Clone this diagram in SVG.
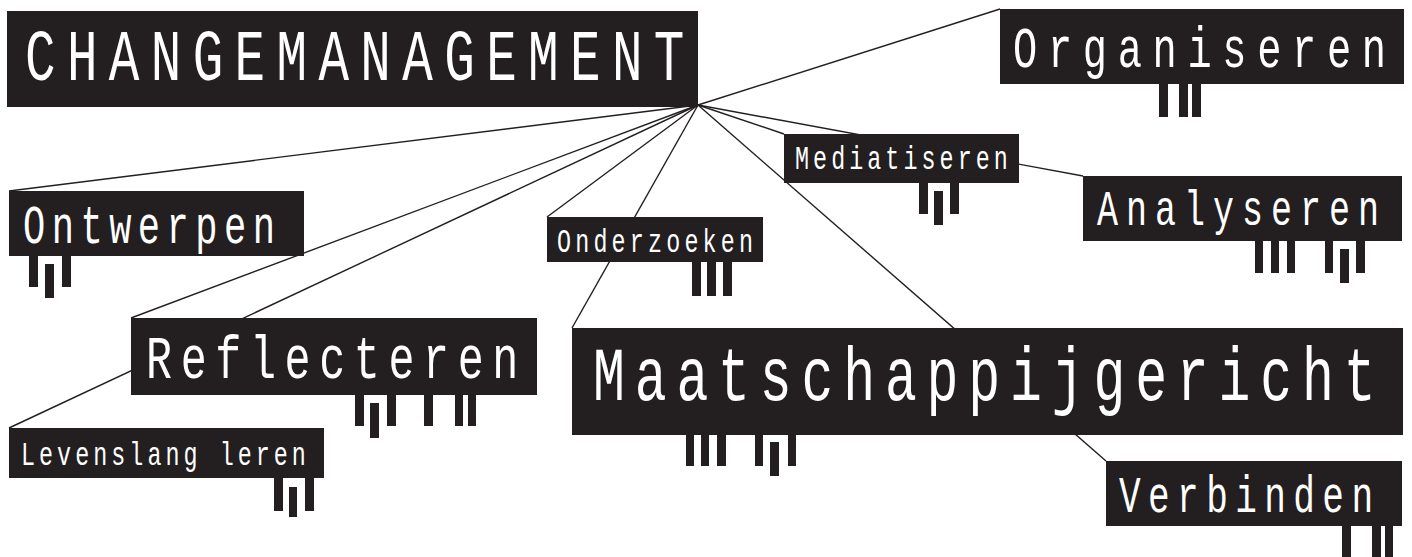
<svg xmlns="http://www.w3.org/2000/svg" width="1412" height="557" viewBox="0 0 1412 557">
<style>
.bg{fill:#ffffff}
.box{fill:#231f20}
.bar{fill:#231f20}
.lbl{fill:#ffffff;font-family:"Liberation Mono","DejaVu Sans Mono",monospace;font-weight:normal}
.con line{stroke:#231f20;stroke-width:1.4;fill:none}
</style>
<rect class="bg" x="0" y="0" width="1412" height="557"/>
<g id="connectors" class="con">
<line x1="698" y1="105" x2="1000" y2="9"/>
<line x1="698" y1="105" x2="784" y2="134"/>
<line x1="698" y1="105" x2="1083" y2="176"/>
<line x1="698" y1="105" x2="1106" y2="461"/>
<line x1="698" y1="105" x2="572" y2="328"/>
<line x1="698" y1="105" x2="547" y2="217"/>
<line x1="698" y1="105" x2="131" y2="318"/>
<line x1="698" y1="105" x2="9" y2="428"/>
<line x1="698" y1="105" x2="9" y2="191"/>
</g>
<g id="changemanagement">
<rect class="box" x="7" y="11" width="691" height="96"/>
<text class="lbl" transform="translate(25,80) scale(0.7,1)" font-size="72.8" textLength="942" lengthAdjust="spacing">CHANGEMANAGEMENT</text>
</g>
<g id="organiseren">
<rect class="box" x="1000" y="9" width="404" height="75"/>
<text class="lbl" transform="translate(1013,67) scale(0.7,1)" font-size="57.7" textLength="533" lengthAdjust="spacing">Organiseren</text>
<rect class="bar" x="1159" y="84" width="9" height="33"/>
<rect class="bar" x="1179" y="84" width="9" height="33"/>
<rect class="bar" x="1192" y="84" width="9" height="33"/>
</g>
<g id="ontwerpen">
<rect class="box" x="9" y="191" width="295" height="65"/>
<text class="lbl" transform="translate(23,243) scale(0.7,1)" font-size="53" textLength="360" lengthAdjust="spacing">Ontwerpen</text>
<rect class="bar" x="29" y="256" width="9" height="31"/>
<rect class="bar" x="45" y="264" width="9" height="34"/>
<rect class="bar" x="62" y="256" width="9" height="31"/>
</g>
<g id="mediatiseren">
<rect class="box" x="784" y="134" width="235" height="49"/>
<text class="lbl" transform="translate(795,169) scale(0.7,1)" font-size="33.4" textLength="304" lengthAdjust="spacing">Mediatiseren</text>
<rect class="bar" x="919" y="183" width="9" height="31"/>
<rect class="bar" x="934" y="191" width="9" height="34"/>
<rect class="bar" x="950" y="183" width="9" height="31"/>
</g>
<g id="analyseren">
<rect class="box" x="1083" y="176" width="319" height="65"/>
<text class="lbl" transform="translate(1097,225) scale(0.7,1)" font-size="50" textLength="403" lengthAdjust="spacing">Analyseren</text>
<rect class="bar" x="1255" y="241" width="8" height="32"/>
<rect class="bar" x="1271" y="241" width="8" height="32"/>
<rect class="bar" x="1287" y="241" width="8" height="32"/>
<rect class="bar" x="1325" y="241" width="8" height="32"/>
<rect class="bar" x="1340" y="249" width="9" height="34"/>
<rect class="bar" x="1356" y="241" width="9" height="32"/>
</g>
<g id="onderzoeken">
<rect class="box" x="547" y="217" width="216" height="45"/>
<text class="lbl" transform="translate(557,252) scale(0.7,1)" font-size="33.4" textLength="280" lengthAdjust="spacing">Onderzoeken</text>
<rect class="bar" x="692" y="262" width="9" height="34"/>
<rect class="bar" x="707" y="262" width="9" height="34"/>
<rect class="bar" x="723" y="262" width="9" height="34"/>
</g>
<g id="reflecteren">
<rect class="box" x="131" y="318" width="406" height="77"/>
<text class="lbl" transform="translate(146,378) scale(0.7,1)" font-size="62" textLength="532" lengthAdjust="spacing">Reflecteren</text>
<rect class="bar" x="355" y="395" width="9" height="31"/>
<rect class="bar" x="370" y="403" width="9" height="35"/>
<rect class="bar" x="387" y="395" width="9" height="31"/>
<rect class="bar" x="424" y="395" width="9" height="31"/>
<rect class="bar" x="455" y="395" width="8" height="31"/>
<rect class="bar" x="468" y="395" width="8" height="31"/>
</g>
<g id="levenslang-leren">
<rect class="box" x="9" y="428" width="315" height="50"/>
<text class="lbl" transform="translate(21,465) scale(0.7,1)" font-size="33.4" textLength="407" lengthAdjust="spacing">Levenslang leren</text>
<rect class="bar" x="274" y="478" width="9" height="33"/>
<rect class="bar" x="289" y="487" width="8" height="30"/>
<rect class="bar" x="305" y="478" width="9" height="33"/>
</g>
<g id="maatschappijgericht">
<rect class="box" x="572" y="328" width="831" height="107"/>
<text class="lbl" transform="translate(593,400) scale(0.7,1)" font-size="76" textLength="1118" lengthAdjust="spacing">Maatschappijgericht</text>
<rect class="bar" x="686" y="435" width="8" height="31"/>
<rect class="bar" x="701" y="435" width="8" height="31"/>
<rect class="bar" x="717" y="435" width="9" height="31"/>
<rect class="bar" x="755" y="435" width="8" height="31"/>
<rect class="bar" x="770" y="442" width="9" height="34"/>
<rect class="bar" x="788" y="435" width="8" height="31"/>
</g>
<g id="verbinden">
<rect class="box" x="1106" y="461" width="296" height="65"/>
<text class="lbl" transform="translate(1119,512) scale(0.7,1)" font-size="51.6" textLength="363" lengthAdjust="spacing">Verbinden</text>
<rect class="bar" x="1342" y="526" width="9" height="31"/>
<rect class="bar" x="1372" y="526" width="9" height="31"/>
<rect class="bar" x="1385" y="526" width="8" height="31"/>
</g>
</svg>
